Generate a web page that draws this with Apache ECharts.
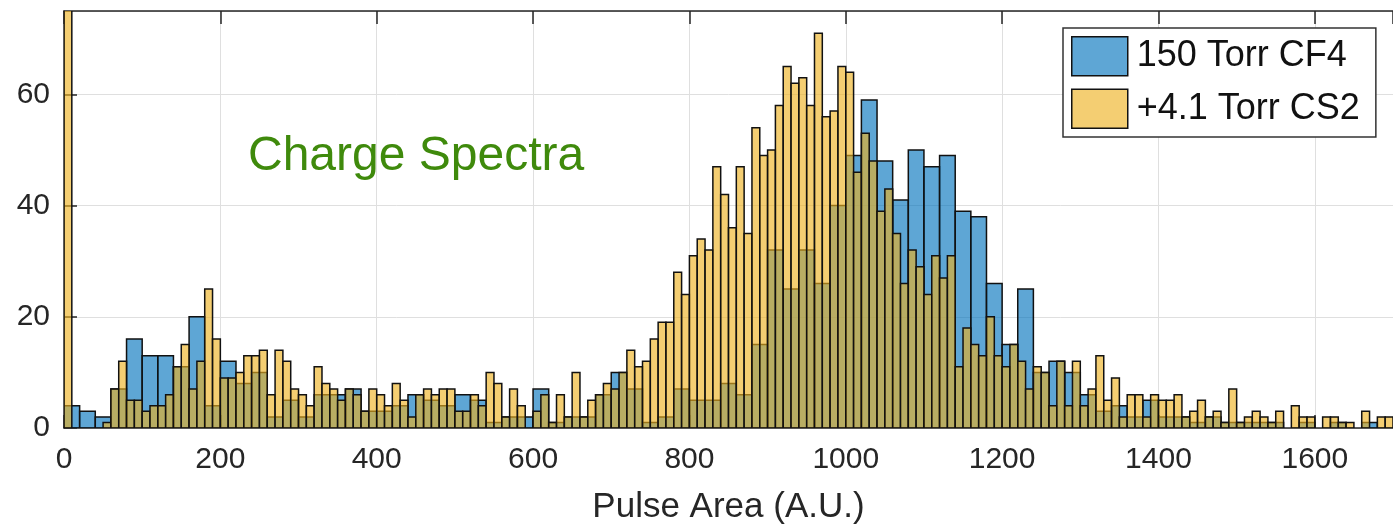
<!DOCTYPE html>
<html>
<head>
<meta charset="utf-8">
<script src="https://cdn.jsdelivr.net/npm/echarts@6/dist/echarts.min.js"></script>
<style>
html,body{margin:0;padding:0;background:#fff;}
#chart{width:1393px;height:530px;}
</style>
</head>
<body>
<div id="chart"></div>
<script>
// ---- data (histogram counts) ----
const seriesNames = ['150 Torr CF4', '+4.1 Torr CS2'];
const cf4BinWidth = 20;   // bins start at 0
const cs2BinWidth = 10;   // bins start at 0
const cf4Counts = [4,3,2,7,16,13,13,11,20,4,12,8,10,2,5,2,6,6,7,3,3,4,6,5,4,6,5,1,2,2,7,1,2,2,6,10,7,1,2,7,5,5,8,6,15,32,25,32,26,40,49,59,48,41,50,47,49,39,38,26,15,25,10,12,10,6,3,4,2,5,2,2,1,2,1,1,1,1,0,1,0,1,0,1,0];
const cs2Counts = [80,0,0,0,0,1,7,12,5,5,3,4,4,6,11,15,7,12,25,16,9,9,10,13,13,14,6,14,12,7,6,4,11,8,7,5,7,6,3,7,6,4,8,5,2,6,7,6,7,7,3,3,6,4,10,8,2,7,4,0,3,6,1,6,2,10,2,5,6,8,7,10,14,11,12,16,19,19,28,24,31,34,32,47,42,36,47,35,54,49,50,58,65,62,63,58,71,56,57,65,64,46,53,48,39,43,35,26,32,29,24,31,27,31,11,18,15,13,20,13,11,15,12,7,11,10,4,12,4,12,4,7,13,5,9,2,6,6,2,6,5,5,6,2,3,5,2,3,1,7,1,2,3,2,1,3,0,4,2,2,0,2,2,1,1,0,3,0,2,2];
const xTicks = [0,200,400,600,800,1000,1200,1400,1600];
const yTicks = [0,20,40,60];
const xLabel = 'Pulse Area (A.U.)';
const annotation = 'Charge Spectra';

function toBins(counts, w) {
  return counts.map((c, i) => [i * w, (i + 1) * w, c]);
}

const FONT = '"Liberation Sans", Arial, Helvetica, sans-serif';
const AX = '#262626';

function histRender(params, api) {
  const v = api.value(2);
  if (!v) return null;
  const p0 = api.coord([api.value(0), v]);
  const p1 = api.coord([api.value(1), 0]);
  return {
    type: 'rect',
    shape: { x: p0[0], y: p0[1], width: p1[0] - p0[0], height: p1[1] - p0[1] },
    style: api.style({ lineWidth: 1.5, stroke: '#111' })
  };
}

const chart = echarts.init(document.getElementById('chart'), null, { renderer: 'canvas' });
chart.setOption({
  animation: false,
  backgroundColor: '#fff',
  grid: { left: 64, right: -9, top: 11, bottom: 100, containLabel: false },
  legend: {
    left: 1063, top: 28,
    orient: 'vertical',
    backgroundColor: '#fff',
    borderColor: '#333',
    borderWidth: 1.5,
    padding: [8, 16, 8, 8],
    itemWidth: 56, itemHeight: 39, itemGap: 12,
    textStyle: { fontFamily: FONT, fontSize: 36, color: '#111', padding: [0, 0, 0, 4] },
    data: [
      { name: seriesNames[0], icon: 'rect', itemStyle: { color: 'rgba(0,114,189,0.63)', borderColor: '#111', borderWidth: 1.5 } },
      { name: seriesNames[1], icon: 'rect', itemStyle: { color: 'rgba(237,177,32,0.63)', borderColor: '#111', borderWidth: 1.5 } }
    ]
  },
  xAxis: [{
    type: 'value', min: 0, max: 1700, interval: 200,
    name: xLabel, nameLocation: 'middle', nameGap: 62,
    nameTextStyle: { fontFamily: FONT, fontSize: 35, color: AX },
    axisLine: { show: true, onZero: false, lineStyle: { color: AX, width: 1.5 } },
    axisTick: { show: true, inside: true, length: 13, lineStyle: { color: AX, width: 1.5 } },
    axisLabel: { fontFamily: FONT, fontSize: 30, color: AX, margin: 17, showMaxLabel: false,
      formatter: v => xTicks.includes(v) ? String(v) : '' },
    splitLine: { show: true, lineStyle: { color: '#dfdfdf', width: 1 } }
  }, {
    type: 'value', min: 0, max: 1700, interval: 200, position: 'top',
    axisLine: { show: true, onZero: false, lineStyle: { color: AX, width: 1.5 } },
    axisTick: { show: true, inside: true, length: 13, lineStyle: { color: AX, width: 1.5 } },
    axisLabel: { show: false },
    splitLine: { show: false }
  }],
  yAxis: [{
    type: 'value', min: 0, max: 75, interval: 20,
    axisLine: { show: true, onZero: false, lineStyle: { color: AX, width: 1.5 } },
    axisTick: { show: true, inside: true, length: 13, lineStyle: { color: AX, width: 1.5 } },
    axisLabel: { fontFamily: FONT, fontSize: 30, color: AX, margin: 14, showMaxLabel: false,
      formatter: v => yTicks.includes(v) ? String(v) : '' },
    splitLine: { show: true, lineStyle: { color: '#dfdfdf', width: 1 } }
  }],
  graphic: [{
    type: 'text', left: 248, top: 133, z: 100,
    style: { text: annotation, fontFamily: FONT, fontSize: 48, fill: '#3f8a0c' }
  }],
  series: [{
    name: seriesNames[0], type: 'custom', clip: true,
    renderItem: histRender,
    encode: { x: [0, 1], y: 2 },
    itemStyle: { color: 'rgba(0,114,189,0.63)' },
    data: toBins(cf4Counts, cf4BinWidth), z: 2
  }, {
    name: seriesNames[1], type: 'custom', clip: true,
    renderItem: histRender,
    encode: { x: [0, 1], y: 2 },
    itemStyle: { color: 'rgba(237,177,32,0.63)' },
    data: toBins(cs2Counts, cs2BinWidth), z: 3
  }]
});
</script>
</body>
</html>
